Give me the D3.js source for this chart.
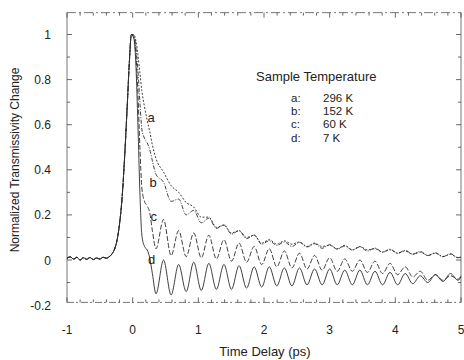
<!DOCTYPE html>
<html>
<head>
<meta charset="utf-8">
<script src="https://cdn.jsdelivr.net/npm/d3@7"></script>
<style>
  body { margin: 0; background: #fff; }
  svg { font-family: "Liberation Sans", Arial, sans-serif; }
</style>
</head>
<body>
<svg id="chart" width="464" height="360"></svg>
<script>
// time points (ps): baseline + rise, fast decay, then one point per oscillation extreme
const timeRise = [-1.0, -0.95, -0.9, -0.85, -0.8, -0.75, -0.7, -0.65, -0.6, -0.55, -0.5, -0.45,
  -0.4, -0.36, -0.32, -0.28, -0.24, -0.2, -0.16, -0.12, -0.08, -0.05, -0.02];
const timeDecay = [0.02, 0.05, 0.08, 0.11, 0.14, 0.18, 0.22, 0.26, 0.30];
const timeOsc = [0.355, 0.47, 0.585, 0.70, 0.815, 0.93, 1.045, 1.16, 1.275, 1.39, 1.505, 1.62,
  1.735, 1.85, 1.965, 2.08, 2.195, 2.31, 2.425, 2.54, 2.655, 2.77, 2.885, 3.0, 3.115, 3.23,
  3.345, 3.46, 3.575, 3.69, 3.805, 3.92, 4.035, 4.15, 4.265, 4.38, 4.495, 4.61, 4.725, 4.84,
  4.955, 5.0];

// shared rising edge
const rise = [0.008, 0.014, 0.004, 0.012, 0.0, 0.01, 0.003, 0.011, 0.002, 0.009, 0.004, 0.012,
  0.008, 0.014, 0.025, 0.045, 0.085, 0.16, 0.28, 0.47, 0.7, 0.88, 1.0];

const decayA = [1.0, 0.97, 0.91, 0.83, 0.75, 0.68, 0.62, 0.57, 0.51];
const decayB = [0.99, 0.94, 0.84, 0.7, 0.58, 0.54, 0.52, 0.49, 0.44];
const decayC = [0.99, 0.91, 0.74, 0.5, 0.32, 0.26, 0.24, 0.21, 0.13];
const decayD = [0.98, 0.86, 0.6, 0.3, 0.11, 0.06, 0.045, 0.01, -0.06];

const oscA = [0.45, 0.39, 0.33, 0.3, 0.255, 0.235, 0.19, 0.19, 0.145, 0.155, 0.12, 0.13, 0.1, 0.11,
  0.075, 0.09, 0.07, 0.085, 0.07, 0.08, 0.06, 0.075, 0.06, 0.065, 0.05, 0.065, 0.045, 0.06, 0.045,
  0.05, 0.035, 0.045, 0.03, 0.04, 0.025, 0.035, 0.02, 0.03, 0.015, 0.025, 0.01, 0.012];
const oscB = [0.38, 0.345, 0.26, 0.27, 0.2, 0.22, 0.165, 0.185, 0.14, 0.155, 0.115, 0.13, 0.095, 0.11,
  0.07, 0.085, 0.065, 0.08, 0.06, 0.078, 0.058, 0.072, 0.052, 0.068, 0.048, 0.062, 0.044, 0.058,
  0.04, 0.053, 0.035, 0.048, 0.03, 0.043, 0.026, 0.038, 0.02, 0.032, 0.015, 0.028, 0.01, 0.015];
const oscC = [0.05, 0.18, 0.02, 0.13, 0.015, 0.12, 0.01, 0.11, 0.005, 0.09, -0.005, 0.075, -0.01, 0.06,
  -0.02, 0.05, -0.03, 0.04, -0.035, 0.03, -0.04, 0.02, -0.045, 0.01, -0.05, 0.005, -0.05, 0.0,
  -0.055, -0.005, -0.06, -0.015, -0.065, -0.03, -0.075, -0.05, -0.09, -0.065, -0.09, -0.07, -0.085, -0.07];
const oscD = [-0.15, 0.0, -0.155, -0.02, -0.14, -0.01, -0.135, -0.015, -0.13, -0.02, -0.13, -0.025,
  -0.125, -0.03, -0.12, -0.03, -0.115, -0.035, -0.115, -0.035, -0.11, -0.04, -0.11, -0.04, -0.11,
  -0.045, -0.11, -0.045, -0.11, -0.05, -0.11, -0.055, -0.11, -0.06, -0.105, -0.07, -0.1, -0.065,
  -0.095, -0.06, -0.09, -0.075];

const curveNames = ['a', 'b', 'c', 'd'];
const temperatures = ['296 K', '152 K', '60 K', '7 K'];
const xTicks = [-1, 0, 1, 2, 3, 4, 5];
const yTicks = [-0.2, 0, 0.2, 0.4, 0.6, 0.8, 1];

const times = timeRise.concat(timeDecay, timeOsc);
const series = [
  rise.concat(decayA, oscA),
  rise.concat(decayB, oscB),
  rise.concat(decayC, oscC),
  rise.concat(decayD, oscD)
];
const dashes = ['2,1.6', '4,1.5,1,1.5', '5,2', null];

const svg = d3.select('#chart');

const x = d3.scaleLinear().domain([-1, 5]).range([67, 461]);
const y = d3.scaleLinear().domain([0, 1]).range([260, 34.5]);
const yTop = 1.097, yBottom = -0.188;

// frame
const frame = svg.append('g')
  .attr('fill', 'none')
  .attr('stroke', '#555')
  .attr('stroke-width', 0.8);
frame.append('line').attr('x1', x(-1)).attr('x2', x(-1)).attr('y1', y(yTop)).attr('y2', y(yBottom));
frame.append('line').attr('x1', x(5)).attr('x2', x(5)).attr('y1', y(yTop)).attr('y2', y(yBottom));
frame.append('line').attr('x1', x(-1)).attr('x2', x(5)).attr('y1', y(yTop)).attr('y2', y(yTop))
  .attr('stroke-dasharray', '9,3,2,3');
frame.append('line').attr('x1', x(-1)).attr('x2', x(5)).attr('y1', y(yBottom)).attr('y2', y(yBottom))
  .attr('stroke-dasharray', '7,2,2,3');

// inward ticks
const minorX = d3.range(-1, 5.001, 0.2);
const minorY = d3.range(-0.1, 1.0501, 0.1);
const ticks = svg.append('g').attr('stroke', '#444').attr('stroke-width', 0.8);
minorX.forEach(v => {
  const major = Math.abs(v - Math.round(v)) < 1e-6;
  const len = major ? 5 : 3;
  ticks.append('line').attr('x1', x(v)).attr('x2', x(v))
    .attr('y1', y(yBottom)).attr('y2', y(yBottom) - len);
  ticks.append('line').attr('x1', x(v)).attr('x2', x(v))
    .attr('y1', y(yTop)).attr('y2', y(yTop) + len);
});
minorY.forEach(v => {
  const major = Math.abs(v * 5 - Math.round(v * 5)) < 1e-6;
  const len = major ? 5 : 3;
  ticks.append('line').attr('x1', x(-1)).attr('x2', x(-1) + len).attr('y1', y(v)).attr('y2', y(v));
  ticks.append('line').attr('x1', x(5)).attr('x2', x(5) - len).attr('y1', y(v)).attr('y2', y(v));
});

// tick labels
svg.append('g').selectAll('text')
  .data(xTicks)
  .join('text')
  .attr('x', d => x(d))
  .attr('y', 334)
  .attr('text-anchor', 'middle')
  .attr('font-size', 12)
  .attr('fill', '#222')
  .text(d => d);

svg.append('g').selectAll('text')
  .data(yTicks)
  .join('text')
  .attr('x', 51)
  .attr('y', d => y(d) + 4.5)
  .attr('text-anchor', 'end')
  .attr('font-size', 12)
  .attr('fill', '#222')
  .text(d => d);

// axis titles
svg.append('text')
  .attr('x', 265)
  .attr('y', 356)
  .attr('text-anchor', 'middle')
  .attr('font-size', 13)
  .attr('fill', '#222')
  .text('Time Delay (ps)');

svg.append('text')
  .attr('transform', 'translate(19,160) rotate(-90)')
  .attr('text-anchor', 'middle')
  .attr('font-size', 12)
  .attr('fill', '#222')
  .text('Normalized Transmissivity Change');

// curves
const line = d3.line()
  .x((d, i) => x(times[i]))
  .y(d => y(d))
  .curve(d3.curveMonotoneX);

svg.append('g')
  .attr('fill', 'none')
  .attr('stroke', '#2a2a2a')
  .attr('stroke-width', 0.9)
  .selectAll('path')
  .data(series)
  .join('path')
  .attr('stroke-dasharray', (d, i) => dashes[i])
  .attr('d', line);

// curve labels
const labelPos = [[0.28, 0.63], [0.31, 0.34], [0.32, 0.19], [0.29, 0.0]];
svg.append('g').selectAll('text')
  .data(curveNames)
  .join('text')
  .attr('x', (d, i) => x(labelPos[i][0]))
  .attr('y', (d, i) => y(labelPos[i][1]) + 4)
  .attr('text-anchor', 'middle')
  .attr('font-size', 13)
  .attr('fill', '#222')
  .text(d => d);

// legend
svg.append('text')
  .attr('x', 256)
  .attr('y', 80.5)
  .attr('font-size', 13)
  .attr('fill', '#222')
  .text('Sample Temperature');

const legend = svg.append('g').selectAll('g')
  .data(curveNames)
  .join('g')
  .attr('transform', (d, i) => `translate(0, ${ 102 + i * 13.2 })`);
legend.append('text')
  .attr('x', 291)
  .attr('font-size', 11.5)
  .attr('fill', '#222')
  .text(d => d + ':');
legend.append('text')
  .attr('x', 323)
  .attr('font-size', 11.5)
  .attr('fill', '#222')
  .text((d, i) => temperatures[i]);
</script>
</body>
</html>
